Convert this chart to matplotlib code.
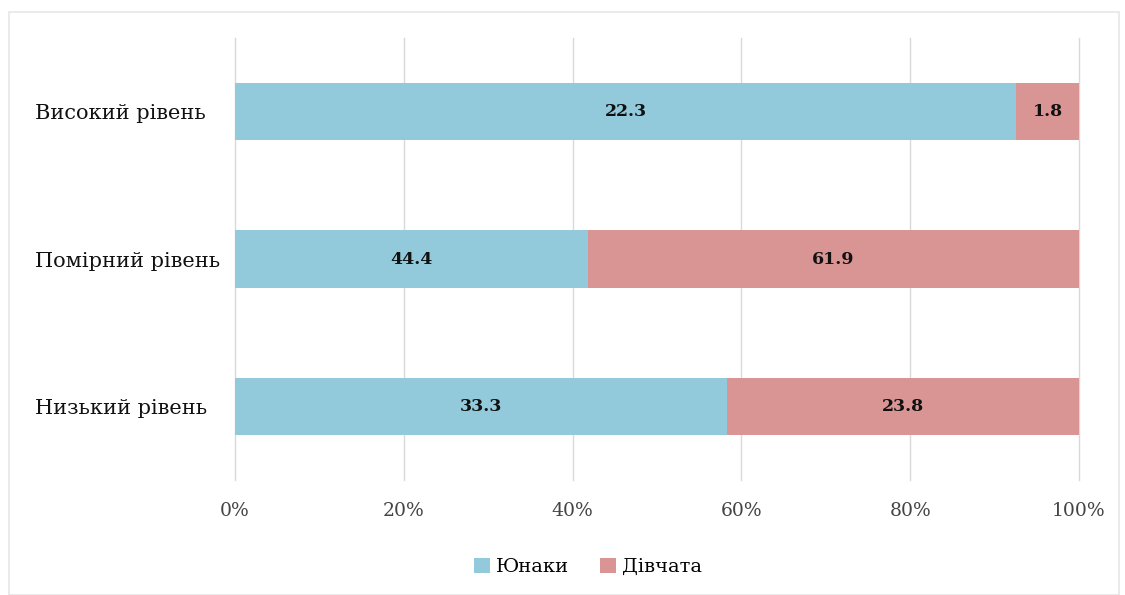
import matplotlib
matplotlib.use('Agg')
from matplotlib import pyplot as plt
from matplotlib.patches import Rectangle
from matplotlib.ticker import PercentFormatter

plt.rcParams['font.family'] = ['DejaVu Serif']

categories = ['Низький рівень', 'Помірний рівень', 'Високий рівень']
boys = [33.3, 44.4, 22.3]
girls = [23.8, 61.9, 1.8]
series_names = ['Юнаки', 'Дівчата']

totals = [b + g for b, g in zip(boys, girls)]
boys_pct = [b / t * 100 for b, t in zip(boys, totals)]
girls_pct = [g / t * 100 for g, t in zip(girls, totals)]

fig = plt.figure(figsize=(11.25, 5.95), dpi=100)
fig.patches.append(Rectangle((9 / 1125, 0), 1110 / 1125, 583 / 595, transform=fig.transFigure,
                             fill=False, edgecolor='#e6e6e6', linewidth=1.2))
ax = fig.add_axes([235 / 1125, 1 - 480 / 595, 844 / 1125, 442 / 595])

y = range(len(categories))
b1 = ax.barh(y, boys_pct, height=0.39, color='#92cadb', label=series_names[0], zorder=3)
b2 = ax.barh(y, girls_pct, left=boys_pct, height=0.39, color='#d99594', label=series_names[1], zorder=3)

for bars, vals in ((b1, boys), (b2, girls)):
    for rect, v in zip(bars, vals):
        ax.text(rect.get_x() + rect.get_width() / 2, rect.get_y() + rect.get_height() / 2,
                f'{v:.1f}', ha='center', va='center', fontsize=12.5, fontweight='bold', color='#111111')

ax.set_xlim(0, 100)
ax.set_ylim(-0.5, 2.5)
ax.set_xticks(range(0, 101, 20))
ax.xaxis.set_major_formatter(PercentFormatter(decimals=0))
ax.set_yticks(list(y))
ax.set_yticklabels(categories, fontsize=15, color='#111111')
for lbl in ax.get_yticklabels():
    lbl.set_ha('left')
ax.tick_params(axis='x', labelsize=13.5, colors='#444444', length=0, pad=16)
ax.tick_params(axis='y', length=0, pad=144)
ax.grid(axis='x', color='#d9d9d9', linewidth=1, zorder=0)
for gl in ax.xaxis.get_gridlines():
    gl.set_clip_on(False)
for s in ax.spines.values():
    s.set_visible(False)

fig.legend(loc='center', bbox_to_anchor=(588 / 1125, 1 - 567 / 595), ncol=2, frameon=False,
           fontsize=14, handlelength=0.8, handleheight=0.8, handletextpad=0.3, columnspacing=1.6)

fig.savefig('out.png', dpi=100)
